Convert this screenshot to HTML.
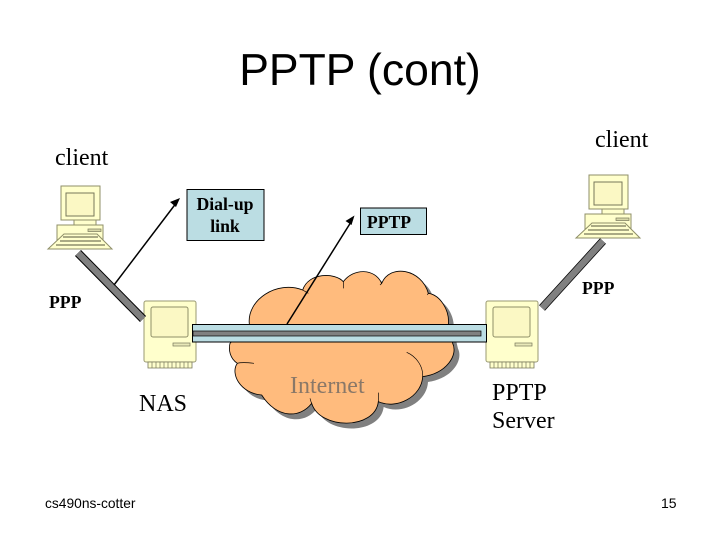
<!DOCTYPE html>
<html><head><meta charset="utf-8"><style>html,body{margin:0;padding:0;background:#fff;width:720px;height:540px;overflow:hidden}svg{display:block}.s{font-family:"Liberation Serif",serif}.a{font-family:"Liberation Sans",sans-serif}.b{font-family:"Liberation Serif",serif;font-weight:bold;font-size:17.700px}</style></head><body>
<svg width="720" height="540" viewBox="0 0 720 540" xmlns="http://www.w3.org/2000/svg">
<defs>
<path id="cl" d="M208 282C200 210 290 150 368 180C385 127 465 127 490 155C520 114 585 114 605 160C630 100 725 117 745 190C780 195 810 240 805 285L818 340C835 375 800 430 728 440C725 500 650 540 595 515C585 600 420 600 395 520C360 566 290 566 245 495C180 490 150 430 172 400C150 385 145 360 150 340Z"/>
<g id="pc">
<rect x="4" y="0" width="39" height="34" fill="#ffffcc" stroke="#8f8f68"/>
<rect x="9" y="7" width="28" height="23" fill="#fbf8c4" stroke="#77775a"/>
<rect x="17" y="34" width="22" height="5" fill="#ffffcc" stroke="#8f8f68"/>
<rect x="0" y="39" width="46" height="16" fill="#ffffcc" stroke="#8f8f68"/>
<rect x="31" y="43" width="13" height="2.500" fill="#d8d8a8" stroke="#77775a" stroke-width=".7"/>
<path d="M7 48H40L55 63H-9Z" fill="#ffffcc" stroke="#8f8f68"/>
<path d="M6 51H41M3 55H44M-1 59H48" stroke="#77775a" stroke-width="1.300"/>
</g>
<g id="srv">
<rect x="0" y="0" width="52" height="61" rx="2" fill="#ffffcc" stroke="#9a9a72"/>
<rect x="7" y="6" width="37" height="30" rx="2" fill="#fbf8c4" stroke="#8f8f68"/>
<rect x="29" y="42" width="17" height="3" fill="#e8e8b8" stroke="#77775a" stroke-width=".7"/>
<path d="M4 61H48V67H4Z" fill="#ffffcc" stroke="#77775a" stroke-width=".8"/>
<path d="M8 61V67M12 61V67M16 61V67M20 61V67M24 61V67M28 61V67M32 61V67M36 61V67M40 61V67M44 61V67" stroke="#77775a" stroke-width=".7"/>
</g>
</defs>
<text x="360" y="85" text-anchor="middle" class="a" font-size="44.500" fill="#000">PPTP (cont)</text>
<text x="55" y="165" class="s" font-size="24">client</text>
<text x="595" y="147" class="s" font-size="24">client</text>
<use href="#pc" x="57" y="186"/>
<use href="#pc" x="585" y="175"/>
<use href="#srv" x="144" y="301"/>
<use href="#srv" x="486" y="301"/>
<g transform="translate(180 230) scale(.33333)">
<use href="#cl" x="16" y="16" fill="#808080"/>
<use href="#cl" fill="#ffbb7d" stroke="#000" stroke-width="2.500"/>
<path d="M680 367C710 380 730 410 728 440M595 515C596 505 595 495 595 488M395 520C392 515 392 510 390 505M172 400C185 396 205 398 222 400M490 155C490 162 490 170 490 175M605 160L600 165M745 190L742 195M368 180L385 190" fill="none" stroke="#000" stroke-width="2"/>
</g>
<line x1="78" y1="253" x2="143" y2="319" stroke="#000" stroke-width="8.500"/>
<line x1="78" y1="253" x2="143" y2="319" stroke="#808080" stroke-width="6.500"/>
<line x1="603" y1="241" x2="542" y2="308" stroke="#000" stroke-width="8"/>
<line x1="603" y1="241" x2="542" y2="308" stroke="#808080" stroke-width="6.500"/>
<rect x="192.500" y="324.500" width="294" height="17.500" fill="#bbdde3" stroke="#000"/>
<rect x="193" y="331" width="288" height="5" fill="#808080" stroke="#000" stroke-width=".7"/>
<line x1="114" y1="285" x2="177" y2="202" stroke="#000" stroke-width="1.500"/>
<path d="M180 198L176 207L170 202Z" fill="#000"/>
<line x1="287" y1="324" x2="351" y2="222" stroke="#000" stroke-width="1.500"/>
<path d="M354.500 215.500L351.500 225L345.500 221Z" fill="#000"/>
<rect x="187" y="189.500" width="77" height="51" fill="#bbdde3" stroke="#000"/>
<rect x="360.500" y="208" width="66" height="26.500" fill="#bbdde3" stroke="#000"/>
<text x="225" y="210" text-anchor="middle" class="b">Dial-up</text>
<text x="225" y="232" text-anchor="middle" class="b">link</text>
<text x="389" y="228" text-anchor="middle" class="b">PPTP</text>
<text x="49" y="308" class="b">PPP</text>
<text x="582" y="294" class="b">PPP</text>
<text x="290" y="393" class="s" font-size="24" fill="#8a7868">Internet</text>
<text x="139" y="411" class="s" font-size="24">NAS</text>
<text x="492" y="400" class="s" font-size="24">PPTP</text>
<text x="492" y="428" class="s" font-size="24">Server</text>
<text x="45" y="508" class="a" font-size="13.800">cs490ns-cotter</text>
<text x="661" y="508" class="a" font-size="14">15</text>
</svg>
</body></html>
